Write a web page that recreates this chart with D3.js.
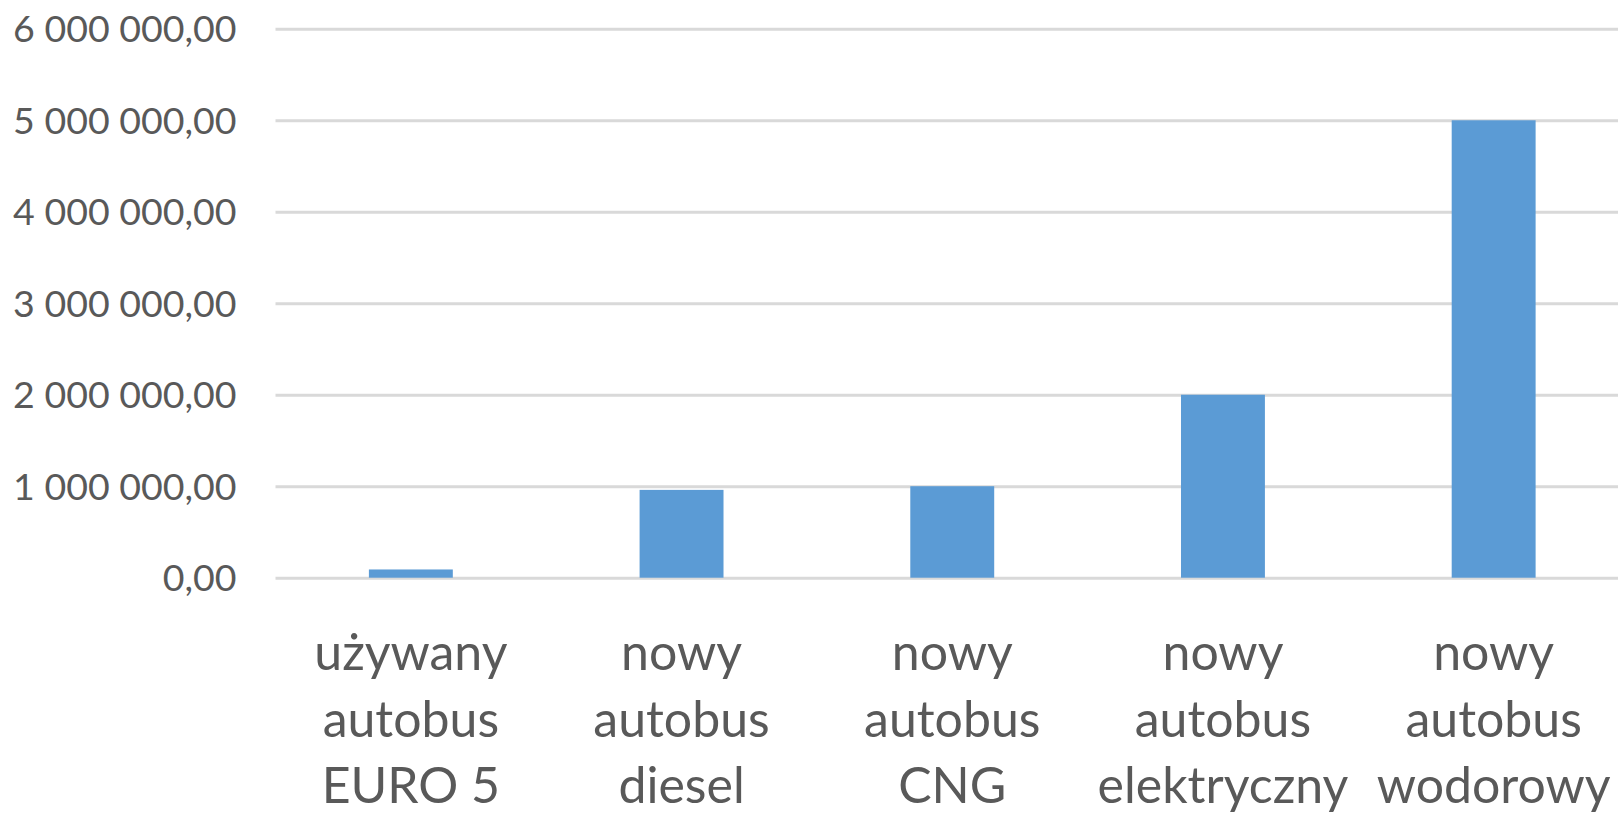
<!DOCTYPE html>
<html>
<head>
<meta charset="utf-8">
<script src="https://cdn.jsdelivr.net/npm/d3@7"></script>
<style>
    body { margin: 0; background: #ffffff; }
    svg { display: block; }
</style>
</head>
<body>
<div id="chart"></div>
<script>
var categories = [
    ["używany", "autobus", "EURO 5"],
    ["nowy", "autobus", "diesel"],
    ["nowy", "autobus", "CNG"],
    ["nowy", "autobus", "elektryczny"],
    ["nowy", "autobus", "wodorowy"]
];
var values = [90000, 960000, 1000000, 2000000, 5000000];
var yTicks = [0, 1000000, 2000000, 3000000, 4000000, 5000000, 6000000];

var width = 1618, height = 814;
var plot = {left: 275.5, right: 1629, top: 28.8, bottom: 577.7};

var plLocale = d3.formatLocale({decimal: ",", thousands: "\u00a0", grouping: [3], currency: ["", " zł"]});
var fmt = plLocale.format(",.2f");

var svg = d3.select("#chart").append("svg")
        .attr("width", width)
        .attr("height", height);

var x = d3.scaleBand()
        .domain(d3.range(categories.length))
        .range([plot.left, plot.right])
        .paddingInner(0.69)
        .paddingOuter(0.345);

var y = d3.scaleLinear()
        .domain([0, 6000000])
        .range([plot.bottom, plot.top]);

// gridlines + y labels
var yAxis = svg.append("g")
        .attr("transform", "translate(" + plot.left + ",0)")
        .call(d3.axisLeft(y)
                .tickValues(yTicks)
                .tickSize(-(plot.right - plot.left))
                .tickPadding(39)
                .tickFormat(fmt));
yAxis.select(".domain").remove();
yAxis.selectAll(".tick line")
        .attr("stroke", "#d9d9d9")
        .attr("stroke-width", 3);
yAxis.selectAll(".tick text")
        .attr("fill", "#595959")
        .attr("font-family", "Lato, 'Open Sans', sans-serif")
        .attr("font-size", 37.5)
        .attr("dy", "0.35em");

// bars
svg.append("g").selectAll("rect")
        .data(values)
        .join("rect")
        .attr("x", function (d, i) { return x(i); })
        .attr("y", function (d) { return y(d); })
        .attr("width", x.bandwidth())
        .attr("height", function (d) { return y(0) - y(d); })
        .attr("fill", "#5b9bd5");

// category labels, three lines each
var lineGap = 66.5;
var labels = svg.append("g").selectAll("text")
        .data(categories)
        .join("text")
        .attr("text-anchor", "middle")
        .attr("fill", "#595959")
        .attr("font-family", "Lato, 'Open Sans', sans-serif")
        .attr("font-size", 50)
        .attr("transform", function (d, i) { return "translate(" + (x(i) + x.bandwidth() / 2) + ",670)"; });
labels.selectAll("tspan")
        .data(function (d) { return d; })
        .join("tspan")
        .attr("x", 0)
        .attr("y", function (d, j) { return j * lineGap; })
        .text(function (d) { return d; });
</script>
</body>
</html>
